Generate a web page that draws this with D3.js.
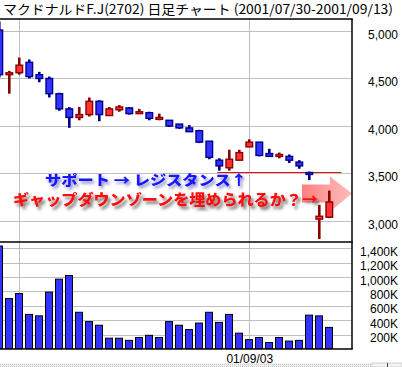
<!DOCTYPE html>
<html>
<head>
<meta charset="utf-8">
<script src="https://cdn.jsdelivr.net/npm/d3@7"></script>
<style>
  body { margin: 0; background: #fff; }
  svg { display: block; }
</style>
</head>
<body>
<div id="chart"></div>
<script>
const title = 'マクドナルドF.J(2702) 日足チャート (2001/07/30-2001/09/13)';

const dates = [
  '2001/07/30', '2001/07/31',
  '2001/08/01', '2001/08/02', '2001/08/03',
  '2001/08/06', '2001/08/07', '2001/08/08', '2001/08/09', '2001/08/10',
  '2001/08/13', '2001/08/14', '2001/08/15', '2001/08/16', '2001/08/17',
  '2001/08/20', '2001/08/21', '2001/08/22', '2001/08/23', '2001/08/24',
  '2001/08/27', '2001/08/28', '2001/08/29', '2001/08/30', '2001/08/31',
  '2001/09/03', '2001/09/04', '2001/09/05', '2001/09/06', '2001/09/07',
  '2001/09/10', '2001/09/11', '2001/09/12', '2001/09/13'
];
const open  = [5010, 4540, 4560, 4670, 4540, 4500, 4340, 4180, 4090, 4120, 4260, 4110, 4170, 4190, 4130, 4140, 4070,
               4060, 4020, 3980, 3950, 3840, 3640, 3560, 3640, 3780, 3830, 3710, 3680, 3680, 3620, 3510, 3020, 3040];
const high  = [5100, 4580, 4720, 4700, 4570, 4520, 4350, 4200, 4200, 4300, 4270, 4200, 4220, 4200, 4180, 4150, 4130,
               4060, 4020, 4010, 3960, 3840, 3660, 3750, 3750, 3860, 3830, 3760, 3720, 3700, 3640, 3520, 3170, 3320];
const low   = [4510, 4340, 4540, 4500, 4460, 4300, 4160, 3980, 4060, 4100, 4050, 4110, 4150, 4120, 4130, 4060, 4060,
               3990, 3970, 3940, 3820, 3650, 3530, 3530, 3640, 3780, 3680, 3680, 3660, 3610, 3550, 3430, 2810, 3030];
const close = [4540, 4560, 4640, 4520, 4500, 4340, 4180, 4090, 4120, 4260, 4120, 4180, 4200, 4130, 4150, 4080, 4090,
               4000, 3980, 3940, 3830, 3670, 3580, 3650, 3720, 3830, 3690, 3680, 3700, 3640, 3580, 3490, 3050, 3200];
// volume in thousands of shares
const volume = [1430, 700, 770, 480, 460, 790, 970, 1020, 510, 380, 330, 150, 150, 120, 160, 190, 160,
                380, 330, 270, 360, 510, 370, 480, 220, 130, 160, 90, 160, 110, 120, 470, 460, 300];

const priceTicks = [5000, 4500, 4000, 3500, 3000];
const volumeTicks = [200, 400, 600, 800, 1000, 1200, 1400];
const gridDates = ['2001/08/01', '2001/09/03'];
const labelDates = ['2001/09/03'];

const supportPrice = 3520;
const gapPrices = [3475, 3030];
const noteSupport = 'サポート → レジスタンス↑';
const noteGap = 'ギャップダウンゾーンを埋められるか？→';

const W = 402, H = 367;
const plotR = 352, priceTop = 19, priceBot = 242, volBot = 349;

const svg = d3.select('#chart').append('svg')
  .attr('width', W)
  .attr('height', H);

svg.append('rect').attr('width', W).attr('height', H).attr('fill', '#fff');

const defs = svg.append('defs');
defs.append('clipPath').attr('id', 'clipPrice')
  .append('rect').attr('x', 0).attr('y', priceTop).attr('width', plotR).attr('height', priceBot - priceTop);
defs.append('clipPath').attr('id', 'clipVol')
  .append('rect').attr('x', 0).attr('y', priceBot).attr('width', plotR).attr('height', volBot - priceBot);

const shadowRed = defs.append('filter').attr('id', 'shRed')
  .attr('x', '-10%').attr('y', '-40%').attr('width', '130%').attr('height', '200%');
shadowRed.append('feDropShadow').attr('dx', 2.5).attr('dy', 3).attr('stdDeviation', 1.6)
  .attr('flood-color', '#555').attr('flood-opacity', 0.8);
const shadowBlue = defs.append('filter').attr('id', 'shBlue')
  .attr('x', '-10%').attr('y', '-40%').attr('width', '130%').attr('height', '200%');
shadowBlue.append('feDropShadow').attr('dx', 2).attr('dy', 2.5).attr('stdDeviation', 1.4)
  .attr('flood-color', '#4a4aa8').attr('flood-opacity', 0.65);
const soft = defs.append('filter').attr('id', 'soft');
soft.append('feGaussianBlur').attr('stdDeviation', 0.7);

const grad = defs.append('linearGradient').attr('id', 'arrowGrad')
  .attr('x1', '0%').attr('x2', '100%').attr('y1', '0%').attr('y2', '0%');
grad.append('stop').attr('offset', '0%').attr('stop-color', '#ff5e5e').attr('stop-opacity', 0.8);
grad.append('stop').attr('offset', '100%').attr('stop-color', '#ff8f8f').attr('stop-opacity', 0.6);

// scales
const x = d3.scaleLinear().domain([0, dates.length - 1]).range([-0.7, 329.3]);
const y = d3.scaleLinear().domain([2779, 5126]).range([priceBot, priceTop]);
const yv = d3.scaleLinear().domain([0, 1486]).range([volBot, priceBot]);

// title
svg.append('text')
  .attr('x', 3).attr('y', 14)
  .attr('font-family', '"Noto Sans CJK JP", sans-serif')
  .attr('font-size', 13)
  .attr('textLength', 390).attr('lengthAdjust', 'spacingAndGlyphs')
  .attr('fill', '#000')
  .text(title);

// grid
const grid = svg.append('g').attr('stroke', '#c0c0c0').attr('stroke-width', 1);
grid.selectAll('.gp').data(priceTicks).enter().append('line')
  .attr('x1', 0).attr('x2', plotR)
  .attr('y1', d => Math.round(y(d)) + 0.5).attr('y2', d => Math.round(y(d)) + 0.5);
grid.selectAll('.gv').data(volumeTicks).enter().append('line')
  .attr('x1', 0).attr('x2', plotR)
  .attr('y1', d => Math.round(yv(d)) + 0.5).attr('y2', d => Math.round(yv(d)) + 0.5);
grid.selectAll('.gx').data(gridDates).enter().append('line')
  .attr('x1', d => Math.round(x(dates.indexOf(d))) + 0.5)
  .attr('x2', d => Math.round(x(dates.indexOf(d))) + 0.5)
  .attr('y1', priceTop).attr('y2', volBot);

// gap-zone annotation (behind candles)
const ann = svg.append('g').attr('clip-path', 'url(#clipPrice)');
ann.selectAll('.gap').data(gapPrices).enter().append('line')
  .attr('x1', 303).attr('x2', 350)
  .attr('y1', d => y(d)).attr('y2', d => y(d))
  .attr('stroke', '#ff6464').attr('stroke-opacity', 0.75)
  .attr('stroke-width', 5).attr('stroke-linecap', 'round')
  .attr('filter', 'url(#soft)');
const ay = y(3290);
ann.append('path')
  .attr('d', `M302,${ay - 9} L330,${ay - 9} L330,${ay - 17} L352,${ay} L330,${ay + 18} L330,${ay + 9} L302,${ay + 9} Z`)
  .attr('fill', 'url(#arrowGrad)')
  .attr('filter', 'url(#soft)');

// support line
ann.append('line')
  .attr('x1', x(21.8)).attr('x2', x(34.2))
  .attr('y1', Math.round(y(supportPrice)) + 0.5).attr('y2', Math.round(y(supportPrice)) + 0.5)
  .attr('stroke', '#dd1111').attr('stroke-width', 1);

// candles
const candles = svg.append('g').attr('clip-path', 'url(#clipPrice)')
  .selectAll('g').data(dates.map((d, i) => i)).enter().append('g');
const up = i => close[i] >= open[i];
candles.append('line')
  .attr('x1', i => x(i)).attr('x2', i => x(i))
  .attr('y1', i => y(high[i])).attr('y2', i => y(low[i]))
  .attr('stroke', i => up(i) ? '#8b0000' : '#00008b')
  .attr('stroke-width', 2.6);
candles.append('rect')
  .attr('x', i => x(i) - 3.3)
  .attr('width', 6.6)
  .attr('y', i => y(Math.max(open[i], close[i])))
  .attr('height', i => Math.max(1.5, Math.abs(y(open[i]) - y(close[i]))))
  .attr('fill', i => up(i) ? '#ff3333' : '#3333ff')
  .attr('stroke', i => up(i) ? '#8b0000' : '#00008b')
  .attr('stroke-width', 1.4);

// volume bars
svg.append('g').attr('clip-path', 'url(#clipVol)')
  .selectAll('rect').data(volume).enter().append('rect')
  .attr('x', (d, i) => Math.round(x(i)) - 3.5)
  .attr('width', 7)
  .attr('y', d => yv(d))
  .attr('height', d => volBot - yv(d))
  .attr('fill', '#3333ff')
  .attr('stroke', '#000')
  .attr('stroke-width', 1);

// frame
const frame = svg.append('g').attr('stroke', '#000').attr('stroke-width', 1.5);
frame.append('line').attr('x1', 0).attr('x2', plotR + 0.75).attr('y1', priceTop).attr('y2', priceTop);
frame.append('line').attr('x1', 0).attr('x2', plotR + 0.75).attr('y1', priceBot).attr('y2', priceBot);
frame.append('line').attr('x1', 0).attr('x2', plotR + 0.75).attr('y1', volBot).attr('y2', volBot);
frame.append('line').attr('x1', plotR).attr('x2', plotR).attr('y1', priceTop).attr('y2', volBot);

// axes
const axisFont = '"Liberation Sans Narrow", "Arial Narrow", "Liberation Sans", sans-serif';
const pa = svg.append('g').attr('transform', `translate(398,0)`)
  .call(d3.axisRight(y).tickValues(priceTicks).tickSize(0).tickPadding(0).tickFormat(d3.format(',')));
const va = svg.append('g').attr('transform', `translate(398,0)`)
  .call(d3.axisRight(yv).tickValues(volumeTicks).tickSize(0).tickPadding(0).tickFormat(d => d3.format(',')(d) + 'K'));
[pa, va].forEach(a => {
  a.select('.domain').remove();
  a.selectAll('text')
    .attr('text-anchor', 'end')
    .attr('dy', '0.6em')
    .attr('fill', '#000')
    .attr('font-family', axisFont)
    .attr('font-size', 12);
});
const xa = svg.append('g').attr('transform', `translate(0,${volBot})`)
  .call(d3.axisBottom(x).tickValues(labelDates.map(d => dates.indexOf(d)))
    .tickSize(0).tickPadding(5).tickFormat(i => dates[i].slice(2)));
xa.select('.domain').remove();
xa.selectAll('text').attr('fill', '#000')
  .attr('font-family', '"Liberation Sans", Arial, sans-serif').attr('font-size', 12);

// notes
svg.append('text')
  .attr('x', 45).attr('y', 185)
  .attr('font-family', '"Noto Sans CJK JP", sans-serif')
  .attr('font-weight', 900).attr('font-size', 14)
  .attr('textLength', 202).attr('lengthAdjust', 'spacingAndGlyphs')
  .attr('fill', '#1414ff')
  .attr('filter', 'url(#shBlue)')
  .text(noteSupport);
svg.append('text')
  .attr('x', 13).attr('y', 205)
  .attr('font-family', '"Noto Sans CJK JP", sans-serif')
  .attr('font-weight', 900).attr('font-size', 15)
  .attr('textLength', 305).attr('lengthAdjust', 'spacingAndGlyphs')
  .attr('fill', '#ff1010')
  .attr('filter', 'url(#shRed)')
  .text(noteGap);

// bottom scroll strip
const pat = defs.append('pattern').attr('id', 'dots').attr('width', 2).attr('height', 2)
  .attr('patternUnits', 'userSpaceOnUse');
pat.append('rect').attr('width', 2).attr('height', 2).attr('fill', '#f0f0f0');
pat.append('rect').attr('width', 1).attr('height', 1).attr('fill', '#c8c8c8');
svg.append('rect').attr('x', 0).attr('y', 363).attr('width', 372).attr('height', 4).attr('fill', 'url(#dots)');
svg.append('rect').attr('x', 372).attr('y', 363).attr('width', 30).attr('height', 4)
  .attr('fill', '#f4f4f4').attr('stroke', '#d0d0d0').attr('stroke-width', 1);
svg.append('line').attr('x1', 387.5).attr('x2', 387.5).attr('y1', 363).attr('y2', 367)
  .attr('stroke', '#444').attr('stroke-width', 1);
</script>
</body>
</html>
